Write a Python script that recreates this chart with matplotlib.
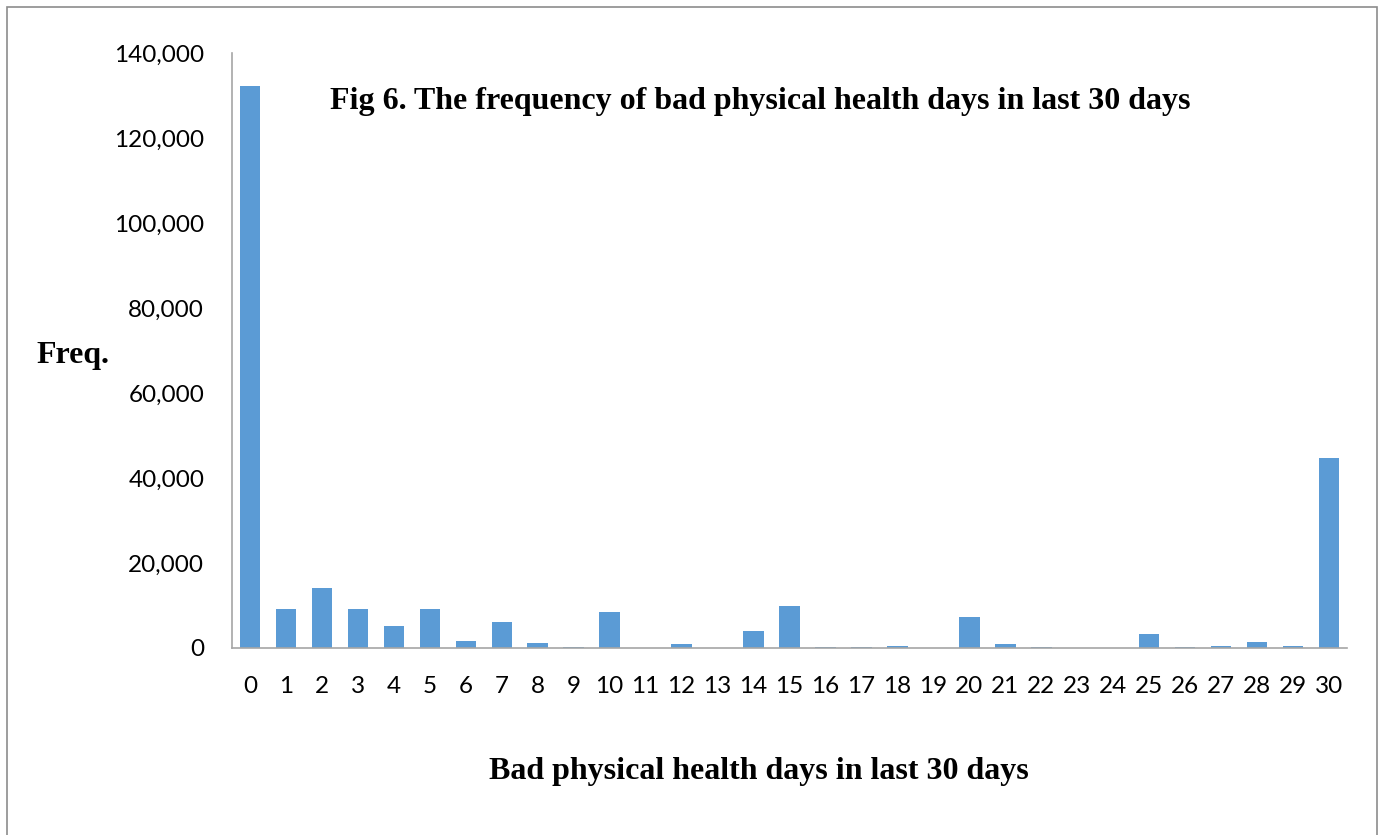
import matplotlib.pyplot as plt
from matplotlib.patches import Rectangle
from matplotlib.ticker import FuncFormatter

days = [str(d) for d in range(31)]
freq = [132300, 9200, 14200, 9200, 5100, 9150, 1650, 6050, 1100, 250,
        8550, 100, 950, 100, 3900, 9800, 250, 150, 400, 50,
        7300, 1000, 150, 100, 100, 3200, 150, 400, 1400, 550,
        44700]

title = "Fig 6. The frequency of bad physical health days in last 30 days"
xlab = "Bad physical health days in last 30 days"
ylab = "Freq."

W, H = 1386, 835
fig = plt.figure(figsize=(W / 100, H / 100), dpi=100)

# outer chart frame
fig.patches.append(Rectangle((7 / W, -0.01), (1377 - 7) / W, (H - 7) / H + 0.01,
                             transform=fig.transFigure, fill=False,
                             edgecolor='#8c8c8c', linewidth=1.2))

ax = fig.add_axes([232 / W, 1 - 648 / H, (1347 - 232) / W, (648 - 53) / H])
ax.bar(range(len(freq)), freq, width=0.57, color='#5B9BD5')
ax.set_xlim(-0.5, len(freq) - 0.5)
ax.set_ylim(0, 140000)
ax.set_yticks(range(0, 140001, 20000))
ax.yaxis.set_major_formatter(FuncFormatter(lambda v, p: f"{int(v):,}"))
ax.set_xticks(range(len(freq)))
ax.set_xticklabels(days)

for s in ['top', 'right']:
    ax.spines[s].set_visible(False)
for s in ['left', 'bottom']:
    ax.spines[s].set_color('#a6a6a6')
    ax.spines[s].set_linewidth(1.2)
ax.tick_params(length=0, labelsize=17.5, colors='black')
ax.tick_params(axis='y', pad=20)
ax.tick_params(axis='x', pad=20)
for lb in ax.get_xticklabels() + ax.get_yticklabels():
    lb.set_family('Lato')

fig.text(760 / W, 1 - 102 / H, title, ha='center', va='center',
         family='Liberation Serif', weight='bold', fontsize=23)
fig.text(759 / W, 1 - 771 / H, xlab, ha='center', va='center',
         family='Liberation Serif', weight='bold', fontsize=23)
fig.text(73 / W, 1 - 355 / H, ylab, ha='center', va='center',
         family='Liberation Serif', weight='bold', fontsize=23)

fig.savefig('out.png', dpi=100)
